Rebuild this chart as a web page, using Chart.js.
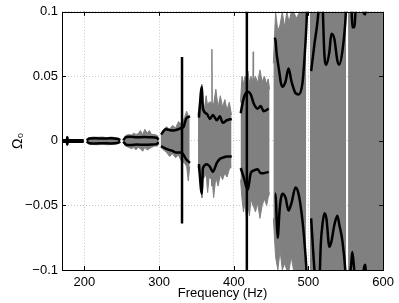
<!DOCTYPE html>
<html>
<head>
<meta charset="utf-8">
<script src="https://cdn.jsdelivr.net/npm/chart.js@4/dist/chart.umd.min.js"></script>
<style>
  body { margin: 0; background: #fff; }
</style>
</head>
<body>
<canvas id="graficoOmega" width="399" height="303"></canvas>
<script>
// Omega_0 vs frequencia - sinal (cinza) e envoltoria (preto)
// null = intervalo sem dados

const greyFreq = [
  171, 176, 177, 178, 185, 199, 201,
  203, 206, 212, 218, 224, 230, 236, 242, 248, 250,
  252, 255, 259, 263, 266, 269, 272, 275, 278, 281, 284, 287, 290, 294, 298, 299.5, 301,
  302, 306, 310, 314, 318, 322, 326, 330, 334, 337, 339, 341, 346,
  352, 354, 356.8, 357.3, 357.8, 361, 363, 365, 367, 370.2, 370.7, 371.2, 373, 376, 379, 382, 385, 388, 391, 394, 397, 403,
  409, 411, 413, 415, 417, 419, 421, 423, 425.5, 426, 426.5, 429, 432, 435, 438, 441, 444, 446, 448, 451,
  453, 456, 459, 462, 465, 468, 471, 474, 477, 480, 484, 488, 492, 497, 500,
  502, 525, 550.5, 551.6,
  553, 578.4, 578.6, 579.2, 579.4, 600
];
const greyHi = [
  0.0008, 0.001, 0.003, 0.001, 0.0008, 0.0008, null,
  0.001, 0.0025, 0.003, 0.0028, 0.003, 0.0025, 0.003, 0.0025, 0.001, null,
  0.001, 0.004, 0.005, 0.0045, 0.006, 0.005, 0.0055, 0.008, 0.005, 0.009, 0.006, 0.008, 0.005, 0.005, 0.004, 0.001, null,
  0.005, 0.009, 0.011, 0.009, 0.012, 0.01, 0.015, 0.013, 0.018, 0.023, 0.019, 0.02, null,
  0.02, 0.028, 0.03, 0.044, 0.03, 0.026, 0.035, 0.027, 0.03, 0.03, 0.071, 0.03, 0.028, 0.04, 0.026, 0.035, 0.026, 0.032, 0.024, 0.03, 0.02, null,
  0.03, 0.05, 0.044, 0.05, 0.046, 0.054, 0.045, 0.05, 0.046, 0.069, 0.046, 0.05, 0.045, 0.055, 0.046, 0.05, 0.044, 0.048, 0.04, null,
  0.06, 0.1, 0.085, 0.09, 0.1, 0.088, 0.1, 0.092, 0.1, 0.1, 0.095, 0.1, 0.1, 0.1, null,
  0.12, 0.12, 0.12, null,
  0.12, 0.12, 0.0, 0.0, 0.12, 0.12
];
const greyLo = [
  -0.0008, -0.001, -0.003, -0.001, -0.0008, -0.0008, null,
  -0.001, -0.0025, -0.0028, -0.003, -0.0025, -0.003, -0.0028, -0.0025, -0.001, null,
  -0.001, -0.004, -0.005, -0.006, -0.005, -0.007, -0.005, -0.006, -0.008, -0.005, -0.007, -0.006, -0.005, -0.004, -0.004, -0.001, null,
  -0.005, -0.007, -0.009, -0.012, -0.01, -0.013, -0.011, -0.016, -0.017, -0.02, -0.031, -0.02, null,
  -0.02, -0.025, -0.03, -0.044, -0.03, -0.028, -0.025, -0.04, -0.028, -0.03, -0.035, -0.03, -0.044, -0.028, -0.035, -0.026, -0.03, -0.025, -0.028, -0.022, -0.02, null,
  -0.03, -0.045, -0.055, -0.048, -0.06, -0.05, -0.058, -0.045, -0.05, -0.05, -0.05, -0.055, -0.048, -0.06, -0.05, -0.045, -0.05, -0.044, -0.04, null,
  -0.06, -0.09, -0.1, -0.085, -0.1, -0.095, -0.1, -0.1, -0.09, -0.1, -0.1, -0.1, -0.1, -0.1, null,
  -0.12, -0.12, -0.12, null,
  -0.12, -0.12, -0.12, -0.12, -0.12, -0.12
];

const envFreq = [
  171, 176.5, 177, 177.5, 199, 201,
  203, 207, 215, 225, 235, 244, 248, 250,
  252, 256, 262, 270, 280, 290, 297, 299, 301,
  302.7, 309, 318.7, 322.7, 330, 333, 336, 341.3, 346,
  353.3, 357.3, 358.7, 364, 368, 372, 377.3, 381.3, 385.3, 390.7, 397.3, 403,
  409.3, 413.3, 418.7, 422.7, 426.7, 432, 436, 440, 446.7, 451,
  455, 456, 457.3, 458.7, 461.3, 463, 465.3, 469.3, 473.3, 477.3, 482.7, 486.7, 492, 494.7, 497.3, 498.7, 501,
  503.6, 508, 512, 514.7, 516.5, 518.7, 521.3, 524, 528, 530.7, 534.7, 538.7, 541.3, 545.3, 549.3, 551, 554,
  557.3, 558.7, 561.3, 564, 568, 572, 574, 576, 578
];
const envHi = [
  0.0006, 0.0006, 0.003, 0.0006, 0.0006, null,
  0.0005, 0.0018, 0.002, 0.0018, 0.002, 0.0017, 0.0005, null,
  0.0005, 0.003, 0.0032, 0.0028, 0.003, 0.0028, 0.0025, 0.0008, null,
  0.005, 0.009, 0.008, 0.0085, 0.01, 0.011, 0.017, 0.019, null,
  0.018, 0.042, 0.025, 0.021, 0.017, 0.02, 0.016, 0.019, 0.014, 0.016, 0.017, null,
  0.0215, 0.033, 0.038, 0.036, 0.029, 0.025, 0.027, 0.023, 0.025, null,
  0.08, 0.077, 0.068, 0.062, 0.052, 0.045, 0.042, 0.046, 0.056, 0.046, 0.037, 0.036, 0.045, 0.064, 0.09, 0.11, null,
  0.054, 0.075, 0.092, 0.11, 0.13, 0.11, 0.067, 0.059, 0.069, 0.083, 0.079, 0.062, 0.059, 0.069, 0.092, 0.11, 0.13,
  0.11, 0.088, 0.088, 0.11, 0.13, 0.12, 0.099, 0.098, 0.12
];
const envLo = [
  -0.0006, -0.0006, -0.003, -0.0006, -0.0006, null,
  -0.0005, -0.0018, -0.002, -0.0018, -0.002, -0.0017, -0.0005, null,
  -0.0005, -0.003, -0.0032, -0.0028, -0.003, -0.0028, -0.0025, -0.0008, null,
  -0.004, -0.006, -0.008, -0.009, -0.009, -0.011, -0.014, -0.017, null,
  -0.018, -0.041, -0.021, -0.018, -0.02, -0.024, -0.017, -0.014, -0.013, -0.012, -0.012, null,
  -0.021, -0.028, -0.038, -0.025, -0.023, -0.022, -0.025, -0.025, -0.024, null,
  -0.041, -0.041, -0.059, -0.075, -0.054, -0.045, -0.041, -0.044, -0.054, -0.048, -0.036, -0.041, -0.062, -0.079, -0.1, -0.12, null,
  -0.06, -0.1, -0.125, -0.11, -0.08, -0.065, -0.056, -0.06, -0.082, -0.078, -0.065, -0.058, -0.065, -0.077, -0.1, -0.12, -0.11,
  -0.095, -0.086, -0.1, -0.12, -0.14, -0.12, -0.1, -0.096, -0.12
];

// picos verticais
const spikeFreq = [330.7, 330.7, 331, 417.5, 417.5];
const spikeVal = [0.065, -0.064, null, 0.12, -0.12];

const xTicks = [200, 300, 400, 500, 600];
const yTicks = [-0.1, -0.05, 0, 0.05, 0.1];

const pontos = (fs, vs) => fs.map((f, i) => ({ x: f, y: vs[i] }));

// caixa e marcas internas estilo MATLAB
const caixa = {
  id: 'caixa',
  afterDraw(chart) {
    const { ctx, chartArea: a, scales } = chart;
    ctx.save();
    ctx.strokeStyle = '#000';
    ctx.lineWidth = 1;
    ctx.beginPath();
    xTicks.forEach(t => {
      const px = Math.round(scales.x.getPixelForValue(t)) + 0.5;
      ctx.moveTo(px, a.bottom); ctx.lineTo(px, a.bottom - 4);
      ctx.moveTo(px, a.top); ctx.lineTo(px, a.top + 4);
    });
    yTicks.forEach(t => {
      const py = Math.round(scales.y.getPixelForValue(t)) + 0.5;
      ctx.moveTo(a.left, py); ctx.lineTo(a.left + 4, py);
      ctx.moveTo(a.right, py); ctx.lineTo(a.right - 4, py);
    });
    ctx.stroke();
    ctx.strokeRect(Math.round(a.left) + 0.5, Math.round(a.top) + 0.5,
      Math.round(a.right - a.left), Math.round(a.bottom - a.top));
    ctx.restore();
  }
};

const fonte = { family: "'Liberation Sans', Arial, sans-serif", size: 13 };

const ctx = document.getElementById('graficoOmega').getContext('2d');

const graficoOmega = new Chart(ctx, {
  type: 'line',
  data: {
    datasets: [
      {
        label: 'pico',
        data: pontos(spikeFreq, spikeVal),
        borderColor: '#000',
        borderWidth: 2.5,
        pointRadius: 0,
        spanGaps: false,
        clip: 0,
        order: 0
      },
      {
        label: 'env+',
        data: pontos(envFreq, envHi),
        borderColor: '#000',
        borderWidth: 2.5,
        pointRadius: 0,
        spanGaps: false,
        cubicInterpolationMode: 'monotone',
        clip: 0,
        order: 0
      },
      {
        label: 'env-',
        data: pontos(envFreq, envLo),
        borderColor: '#000',
        borderWidth: 2.5,
        pointRadius: 0,
        spanGaps: false,
        cubicInterpolationMode: 'monotone',
        clip: 0,
        order: 0
      },
      {
        label: 'sinal+',
        data: pontos(greyFreq, greyHi),
        borderColor: 'rgb(128,128,128)',
        backgroundColor: 'rgb(128,128,128)',
        borderWidth: 1,
        pointRadius: 0,
        spanGaps: false,
        fill: '+1',
        clip: 0,
        order: 1
      },
      {
        label: 'sinal-',
        data: pontos(greyFreq, greyLo),
        borderColor: 'rgb(128,128,128)',
        borderWidth: 1,
        pointRadius: 0,
        spanGaps: false,
        fill: false,
        clip: 0,
        order: 1
      }
    ]
  },
  options: {
    responsive: false,
    animation: false,
    devicePixelRatio: 1,
    layout: { padding: { top: 9, right: 15, left: 0, bottom: 0 } },
    plugins: { legend: { display: false }, tooltip: { enabled: false } },
    scales: {
      x: {
        type: 'linear',
        min: 170,
        max: 600,
        afterBuildTicks: s => { s.ticks = xTicks.map(v => ({ value: v })); },
        afterFit: s => { s.height = 33; },
        grid: { color: '#c8c8c8', drawTicks: false },
        border: { display: false, dash: [1, 2] },
        ticks: { color: '#000', font: fonte, padding: 5, maxRotation: 0 },
        title: { display: true, text: 'Frequency (Hz)', color: '#000', font: fonte, padding: { top: 0, bottom: 2 } }
      },
      y: {
        min: -0.1,
        max: 0.1,
        afterBuildTicks: s => { s.ticks = yTicks.map(v => ({ value: v })); },
        afterFit: s => { s.width = 62; },
        grid: { color: '#c8c8c8', drawTicks: false },
        border: { display: false, dash: [1, 2] },
        ticks: {
          color: '#000', font: fonte, padding: 4,
          callback: v => String(v).replace('-', '\u2212')
        },
        title: { display: true, text: 'Ω₀', color: '#000', font: { family: fonte.family, size: 14 }, padding: { top: 10, bottom: 0 } }
      }
    }
  },
  plugins: [caixa]
});
</script>
</body>
</html>
